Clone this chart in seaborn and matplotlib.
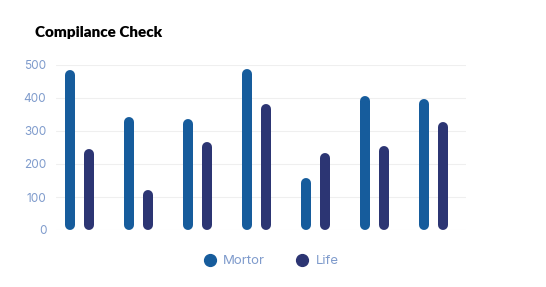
import matplotlib
matplotlib.use("Agg")
import matplotlib.pyplot as plt
import seaborn as sns
import pandas as pd
from matplotlib.lines import Line2D

groups = ["G1", "G2", "G3", "G4", "G5", "G6", "G7"]
mortor = [486, 343, 336, 488, 157, 407, 396]
life = [245, 121, 267, 382, 232, 255, 327]
series = ["Mortor", "Life"]
colors = ["#165c9c", "#2c3573"]
yticks = [0, 100, 200, 300, 400, 500]

df = pd.DataFrame({
    "group": groups * 2,
    "value": mortor + life,
    "series": ["Mortor"] * len(groups) + ["Life"] * len(groups),
})

sns.set_style("white")
plt.rcParams["font.family"] = ["Inter", "DejaVu Sans"]

W, H = 546, 287
fig = plt.figure(figsize=(W / 100, H / 100), dpi=100)
ax_l, ax_r, ax_top, ax_bot = 56, 466, 65, 230
ax = fig.add_axes([ax_l / W, 1 - ax_bot / H, (ax_r - ax_l) / W, (ax_bot - ax_top) / H])

sns.barplot(data=df, x="group", y="value", hue="series", hue_order=series,
            palette=colors, ax=ax, width=0.65, dodge=True, legend=False,
            errorbar=None, saturation=1)

ax.set_ylim(0, 500)
ax.set_xlim(-0.40, 6.55)
px_per_unit = (ax_bot - ax_top) / 500.0
lw_px = 10
r_data = (lw_px / 2) / px_per_unit

for p in list(ax.patches):
    x = p.get_x() + p.get_width() / 2
    h = p.get_height()
    c = p.get_facecolor()
    p.set_visible(False)
    ax.add_line(Line2D([x, x], [r_data, max(h - r_data, r_data)], color=c,
                       linewidth=lw_px * 72 / 100, solid_capstyle="round",
                       clip_on=False, zorder=3))

ax.set_yticks(yticks)
ax.set_yticklabels([str(t) for t in yticks])
ax.yaxis.grid(True, color="#efefef", linewidth=0.8)
ax.xaxis.grid(False)
ax.set_axisbelow(True)
for s in ax.spines.values():
    s.set_visible(False)
ax.set_xticks([])
ax.set_xlabel("")
ax.set_ylabel("")
ax.tick_params(axis="y", length=0, pad=7, labelsize=8.5, labelcolor="#7f9bcc")

fig.text(35 / W, 1 - 33 / H, "Compilance Check", fontsize=11, fontweight="heavy",
         color="#000000", va="center", ha="left", family=["Lato", "DejaVu Sans"])

handles = [Line2D([], [], marker="o", linestyle="", markersize=8.5,
                  markerfacecolor=c, markeredgecolor=c) for c in colors]
fig.legend(handles, series, loc="center", bbox_to_anchor=(271 / W, 1 - 261 / H),
           ncol=2, frameon=False, fontsize=9.5, labelcolor="#7f9bcc",
           handletextpad=0.5, columnspacing=2.3, handlelength=1.0)

fig.savefig("out.png", dpi=100)
